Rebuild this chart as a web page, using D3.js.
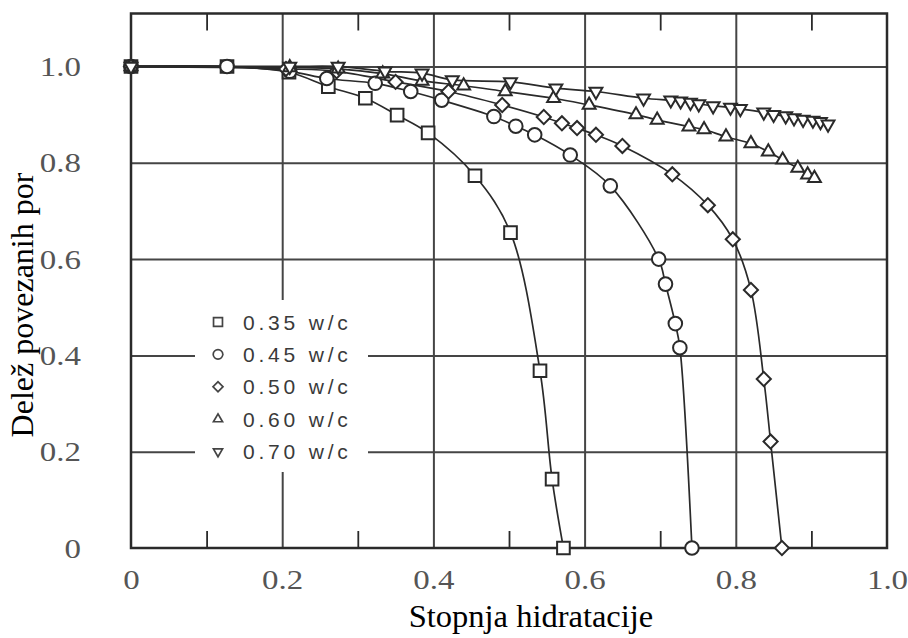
<!DOCTYPE html>
<html>
<head>
<meta charset="utf-8">
<script src="https://cdn.jsdelivr.net/npm/d3@7"></script>
<style>
  body { margin: 0; background: #fff; }
  svg { display: block; }
</style>
</head>
<body>
<svg id="chart" width="908" height="638"></svg>
<script>
// Degree of hydration vs. fraction of connected pores, per water/cement ratio
const seriesLabels = ["0.35 w/c", "0.45 w/c", "0.50 w/c", "0.60 w/c", "0.70 w/c"];

const hydr035 = [0, 0.127, 0.209, 0.261, 0.31, 0.352, 0.393, 0.455, 0.502, 0.541, 0.557, 0.572];
const frac035 = [1.0, 1.0, 0.988, 0.958, 0.934, 0.899, 0.862, 0.773, 0.655, 0.368, 0.143, 0.0];

const hydr045 = [0, 0.127, 0.21, 0.259, 0.323, 0.37, 0.411, 0.48, 0.509, 0.534, 0.581, 0.634, 0.698, 0.707, 0.72, 0.726, 0.742];
const frac045 = [1.0, 1.0, 0.99, 0.975, 0.965, 0.948, 0.93, 0.896, 0.876, 0.858, 0.816, 0.752, 0.6, 0.548, 0.466, 0.416, 0.0];

const hydr050 = [0, 0.205, 0.272, 0.35, 0.42, 0.491, 0.546, 0.57, 0.59, 0.615, 0.65, 0.716, 0.763, 0.796, 0.82, 0.837, 0.846, 0.861];
const frac050 = [1.0, 0.995, 0.99, 0.968, 0.948, 0.92, 0.895, 0.882, 0.872, 0.858, 0.835, 0.776, 0.712, 0.641, 0.536, 0.351, 0.221, 0.0];

const hydr060 = [0, 0.21, 0.274, 0.333, 0.385, 0.44, 0.495, 0.559, 0.606, 0.668, 0.696, 0.738, 0.758, 0.787, 0.82, 0.843, 0.862, 0.882, 0.895, 0.904];
const frac060 = [1.0, 0.998, 0.995, 0.985, 0.97, 0.96, 0.948, 0.934, 0.92, 0.9, 0.889, 0.875, 0.869, 0.854, 0.84, 0.823, 0.806, 0.789, 0.775, 0.768];

const hydr070 = [0, 0.21, 0.274, 0.336, 0.385, 0.425, 0.502, 0.562, 0.615, 0.678, 0.714, 0.727, 0.74, 0.751, 0.77, 0.793, 0.806, 0.837, 0.85, 0.866, 0.877, 0.889, 0.902, 0.912, 0.922];
const frac070 = [1.0, 1.0, 1.0, 0.99, 0.986, 0.972, 0.968, 0.955, 0.948, 0.934, 0.93, 0.928, 0.925, 0.922, 0.918, 0.915, 0.912, 0.905, 0.9, 0.897, 0.893, 0.89, 0.888, 0.885, 0.88];

const xTicks = [0, 0.2, 0.4, 0.6, 0.8, 1.0];
const yTicks = [0, 0.2, 0.4, 0.6, 0.8, 1.0];
const minorTicks = [0.1, 0.3, 0.5, 0.7, 0.9];

const xTitle = "Stopnja hidratacije";
const yTitle = "Delež povezanih por";

const svg = d3.select("#chart");
const ink = "#2a2a2a";
const gridInk = "#454545";

const plot = { left: 131, right: 887, top: 13.5, bottom: 548 };
const x = d3.scaleLinear().domain([0, 1]).range([plot.left, plot.right]);
const y = d3.scaleLinear().domain([0, 1.11]).range([plot.bottom, plot.top]);

// Symbol for each series: square, circle, diamond, triangle up, triangle down
const markerDefs = [
  { type: d3.symbolSquare, size: 160, rot: 0 },
  { type: d3.symbolCircle, size: 145, rot: 0 },
  { type: d3.symbolSquare, size: 100, rot: 45 },
  { type: d3.symbolTriangle, size: 72, rot: 0 },
  { type: d3.symbolTriangle, size: 72, rot: 180 }
];

const seriesData = [
  d3.zip(hydr035, frac035),
  d3.zip(hydr045, frac045),
  d3.zip(hydr050, frac050),
  d3.zip(hydr060, frac060),
  d3.zip(hydr070, frac070)
];

// Gridlines
const fmt = d => d === 0 ? "0" : d3.format(".1f")(d);
const gridX = svg.append("g")
  .attr("transform", `translate(0,${plot.bottom})`)
  .call(d3.axisBottom(x).tickValues(xTicks.filter(d => d > 0 && d < 1))
    .tickSize(-(plot.bottom - plot.top)).tickFormat(""));
gridX.select(".domain").remove();
gridX.selectAll("line").attr("stroke", gridInk).attr("stroke-width", 2);

const gridY = svg.append("g")
  .attr("transform", `translate(${plot.left},0)`)
  .call(d3.axisLeft(y).tickValues(yTicks.filter(d => d > 0))
    .tickSize(-(plot.right - plot.left)).tickFormat(""));
gridY.select(".domain").remove();
gridY.selectAll("line").attr("stroke", gridInk).attr("stroke-width", 2);

// Minor ticks along top and bottom edges
const minorBottom = svg.append("g")
  .attr("transform", `translate(0,${plot.bottom})`)
  .call(d3.axisBottom(x).tickValues(minorTicks).tickSize(-17).tickFormat(""));
minorBottom.select(".domain").remove();
minorBottom.selectAll("line").attr("stroke", ink).attr("stroke-width", 1.8);

const minorTop = svg.append("g")
  .attr("transform", `translate(0,${plot.top})`)
  .call(d3.axisTop(x).tickValues(minorTicks).tickSize(-17).tickFormat(""));
minorTop.select(".domain").remove();
minorTop.selectAll("line").attr("stroke", ink).attr("stroke-width", 1.8);

// Frame
svg.append("rect")
  .attr("x", plot.left).attr("y", plot.top)
  .attr("width", plot.right - plot.left).attr("height", plot.bottom - plot.top)
  .attr("fill", "none").attr("stroke", ink).attr("stroke-width", 2.5);

// Tick labels
const xLab = svg.append("g")
  .attr("transform", `translate(0,${plot.bottom})`)
  .call(d3.axisBottom(x).tickValues(xTicks).tickSize(0).tickPadding(0).tickFormat(fmt));
xLab.select(".domain").remove();
xLab.selectAll("text")
  .attr("y", 41).attr("dy", 0)
  .attr("font-family", "'Liberation Serif', 'Times New Roman', serif")
  .attr("font-size", 27).attr("fill", "#555")
  .attr("transform", "scale(1.22,1)");

const yLab = svg.append("g")
  .attr("transform", `translate(${plot.left},0)`)
  .call(d3.axisLeft(y).tickValues(yTicks).tickSize(0).tickPadding(0).tickFormat(fmt));
yLab.select(".domain").remove();
yLab.selectAll("text")
  .attr("x", -50 / 1.22).attr("dy", "0.34em")
  .attr("font-family", "'Liberation Serif', 'Times New Roman', serif")
  .attr("font-size", 27).attr("fill", "#555")
  .attr("transform", "scale(1.22,1)");

// Axis titles
svg.append("text")
  .attr("x", 531).attr("y", 627)
  .attr("text-anchor", "middle")
  .attr("font-family", "'Liberation Serif', 'Times New Roman', serif")
  .attr("font-size", 32.5).attr("fill", "#000")
  .text(xTitle);

svg.append("text")
  .attr("transform", "translate(33,305) rotate(-90)")
  .attr("text-anchor", "middle")
  .attr("font-family", "'Liberation Serif', 'Times New Roman', serif")
  .attr("font-size", 32).attr("fill", "#000")
  .text(yTitle);

// Legend box (blanks out the gridlines behind it)
const legend = svg.append("g");
legend.append("rect")
  .attr("x", 195).attr("y", 300).attr("width", 173).attr("height", 172)
  .attr("fill", "#fff");

// Series curves
const line = d3.line()
  .x(d => x(d[0])).y(d => y(d[1]))
  .curve(d3.curveCatmullRom.alpha(0.5));

const plotG = svg.append("g");
seriesData.forEach(pts => {
  plotG.append("path")
    .attr("d", line(pts))
    .attr("fill", "none").attr("stroke", ink).attr("stroke-width", 1.7);
});

seriesData.forEach((pts, i) => {
  const m = markerDefs[i];
  const path = d3.symbol().type(m.type).size(m.size)();
  plotG.append("g").selectAll("path")
    .data(pts)
    .join("path")
    .attr("d", path)
    .attr("transform", d => `translate(${x(d[0])},${y(d[1])}) rotate(${m.rot})`)
    .attr("fill", "#fff").attr("stroke", ink).attr("stroke-width", 2);
});

// Legend entries
const rowY = d3.scaleLinear().domain([0, 4]).range([322, 451.5]);
seriesLabels.forEach((lab, i) => {
  const m = markerDefs[i];
  legend.append("path")
    .attr("d", d3.symbol().type(m.type).size(m.size * 0.5)())
    .attr("transform", `translate(218,${rowY(i)}) rotate(${m.rot})`)
    .attr("fill", "#fff").attr("stroke", "#444").attr("stroke-width", 1.7);
  legend.append("text")
    .attr("x", 243).attr("y", rowY(i)).attr("dy", "0.36em")
    .attr("font-family", "'Liberation Sans', Arial, sans-serif")
    .attr("font-size", 21).attr("letter-spacing", 3.8).attr("fill", "#3a3a3a")
    .text(lab);
});
</script>
</body>
</html>
